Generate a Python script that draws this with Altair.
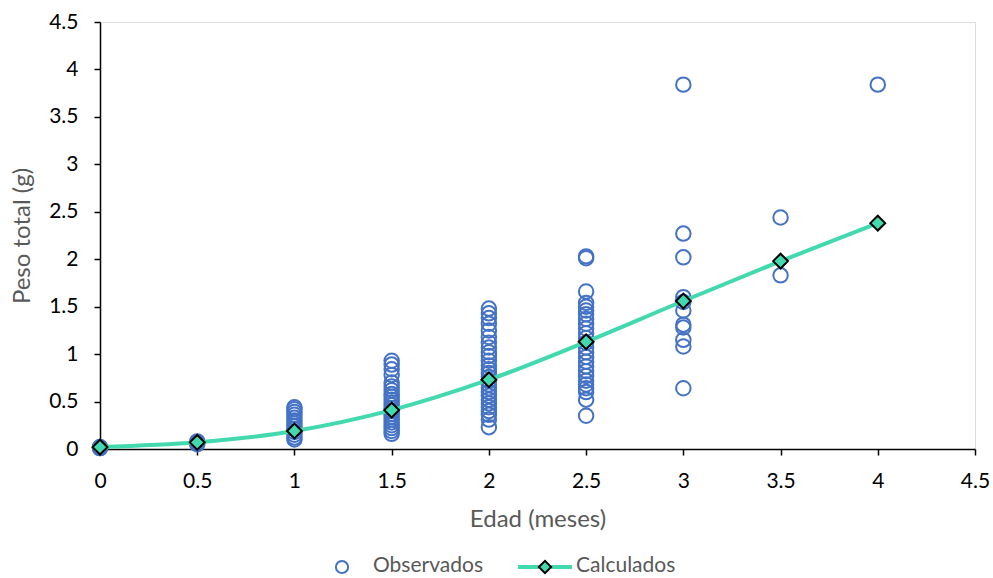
import altair as alt
import pandas as pd

# Observed data (Edad in months -> Peso total in g)
obs_0 = [0.01, 0.01, 0.02]
obs_05 = [0.05, 0.06, 0.07, 0.08]
obs_1 = [0.44, 0.42, 0.39, 0.36, 0.33, 0.30, 0.27, 0.24, 0.21, 0.18, 0.15, 0.12, 0.10]
obs_15 = [0.93, 0.89, 0.84, 0.78, 0.70, 0.66, 0.62, 0.58, 0.55, 0.52, 0.49, 0.46,
          0.43, 0.40, 0.37, 0.34, 0.31, 0.28, 0.25, 0.22, 0.19, 0.16]
obs_2 = [1.48, 1.43, 1.38, 1.32, 1.25, 1.18, 1.12, 1.07, 1.02, 0.98, 0.93, 0.88,
         0.84, 0.80, 0.76, 0.72, 0.68, 0.64, 0.60, 0.56, 0.52, 0.48, 0.44, 0.40,
         0.36, 0.31, 0.23]
obs_25 = [2.03, 2.01, 1.66, 1.54, 1.50, 1.46, 1.42, 1.37, 1.32, 1.27, 1.22, 1.17,
          1.12, 1.07, 1.02, 0.97, 0.92, 0.87, 0.82, 0.77, 0.72, 0.68, 0.64, 0.60,
          0.52, 0.35]
obs_3 = [3.84, 2.27, 2.02, 1.60, 1.55, 1.46, 1.31, 1.28, 1.15, 1.08, 0.64]
obs_35 = [2.44, 1.83]
obs_4 = [3.84]

ages = [0, 0.5, 1, 1.5, 2, 2.5, 3, 3.5, 4]
calc = [0.02, 0.07, 0.19, 0.41, 0.73, 1.13, 1.56, 1.98, 2.38]
obs_groups = [obs_0, obs_05, obs_1, obs_15, obs_2, obs_25, obs_3, obs_35, obs_4]

rows = []
for a, vals in zip(ages, obs_groups):
    for v in vals:
        rows.append({"edad": a, "peso": v})
obs_df = pd.DataFrame(rows)
calc_df = pd.DataFrame({"edad": ages, "peso": calc})

FONT = "Lato"
BLUE = "#4472C4"
GREEN = "#42D9AE"
W, H = 875, 427

ticks = [i * 0.5 for i in range(10)]
xscale = alt.Scale(domain=[0, 4.5], nice=False)
yscale = alt.Scale(domain=[0, 4.5], nice=False)

xaxis = alt.Axis(values=ticks, format="~g", grid=False, domainColor="black",
                 domainWidth=1.5, tickColor="black", tickSize=6, tickWidth=1.5,
                 labelPadding=15, labelFlush=False, labelBound=False,
                 labelFont=FONT, labelFontSize=21, labelColor="black",
                 title="Edad (meses)", titleFont=FONT, titleFontSize=24,
                 titleFontWeight="normal", titleColor="#595959",
                 titleY=70, titleBaseline="middle")
yaxis = alt.Axis(values=ticks, format="~g", grid=False, domainColor="black",
                 domainWidth=1.5, tickColor="black", tickSize=6, tickWidth=1.5,
                 labelPadding=16, labelFlush=False, labelBound=False,
                 labelFont=FONT, labelFontSize=21, labelColor="black",
                 title="Peso total (g)", titleFont=FONT, titleFontSize=24,
                 titleFontWeight="normal", titleColor="#595959",
                 titleX=-78, titleY=H / 2, titleBaseline="middle", titleAngle=270)

points = alt.Chart(obs_df).mark_point(
    shape="circle", filled=False, color=BLUE, size=210, strokeWidth=2, opacity=1
).encode(
    x=alt.X("edad:Q", scale=xscale, axis=xaxis),
    y=alt.Y("peso:Q", scale=yscale, axis=yaxis),
)

line = alt.Chart(calc_df).mark_line(
    color=GREEN, strokeWidth=4, interpolate="monotone"
).encode(x="edad:Q", y="peso:Q")

diamonds = alt.Chart(calc_df).mark_point(
    shape="diamond", filled=True, fill=GREEN, stroke="black", strokeWidth=2,
    size=220, opacity=1
).encode(x="edad:Q", y="peso:Q")

# Manual legend below the plot
one = pd.DataFrame({"k": [0]})
LY = 544
leg_circle = alt.Chart(one).mark_point(
    shape="circle", filled=False, color=BLUE, size=150, strokeWidth=2, opacity=1
).encode(x=alt.value(242), y=alt.value(LY + 1))
leg_text1 = alt.Chart(one).mark_text(
    text="Observados", align="left", baseline="middle", font=FONT, fontSize=21,
    color="#595959"
).encode(x=alt.value(273), y=alt.value(LY))
leg_line = alt.Chart(one).mark_rule(color=GREEN, strokeWidth=4).encode(
    x=alt.value(418), x2=alt.value(472), y=alt.value(LY + 1)
)
leg_diamond = alt.Chart(one).mark_point(
    shape="diamond", filled=True, fill=GREEN, stroke="black", strokeWidth=2,
    size=150, opacity=1
).encode(x=alt.value(445), y=alt.value(LY + 1))
leg_text2 = alt.Chart(one).mark_text(
    text="Calculados", align="left", baseline="middle", font=FONT, fontSize=21,
    color="#595959"
).encode(x=alt.value(476), y=alt.value(LY))

chart = alt.layer(
    points, line, diamonds, leg_circle, leg_text1, leg_line, leg_diamond, leg_text2
).properties(
    width=W, height=H,
    autosize=alt.AutoSizeParams(type="none"),
    padding={"left": 100, "top": 22, "right": 18, "bottom": 129},
).configure_view(stroke=None).configure(background="white")

chart.save("out.html", embed_options={"renderer": "svg", "actions": False})
